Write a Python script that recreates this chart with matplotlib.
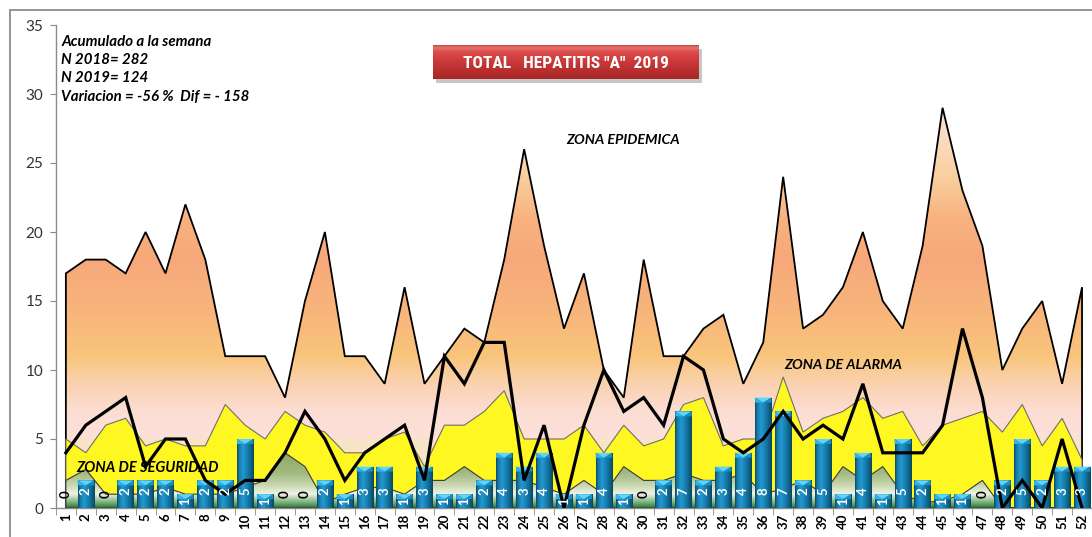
import numpy as np
import matplotlib
matplotlib.use("Agg")
import matplotlib.pyplot as plt
from matplotlib.patches import Polygon, Rectangle
from matplotlib.colors import to_rgb

# ---------------- data ----------------
weeks = list(range(1, 53))
week_labels = [str(w) for w in weeks]

zona_epidemica = [17, 18, 18, 17, 20, 17, 22, 18, 11, 11,
                  11, 8, 15, 20, 11, 11, 9, 16, 9, 11,
                  13, 12, 18, 26, 19, 13, 17, 10, 8, 18,
                  11, 11, 13, 14, 9, 12, 24, 13, 14, 16,
                  20, 15, 13, 19, 29, 23, 19, 10, 13, 15,
                  9, 16]
zona_alarma = [5, 4, 6, 6.5, 4.5, 5, 4.5, 4.5, 7.5, 6,
               5, 7, 6, 5.5, 4, 4, 5, 5.5, 3, 6,
               6, 7, 8.5, 5, 5, 5, 6, 4, 6, 4.5,
               5, 7.5, 8, 4.5, 5, 5, 9.5, 5.5, 6.5, 7,
               8, 6.5, 7, 4.5, 6, 6.5, 7, 5.5, 7.5, 4.5,
               6.5, 3.5]
zona_seguridad = [2, 2.8, 1, 1, 1, 1.5, 1, 1, 1, 1.5,
                  2, 4, 3, 0.4, 1, 1.5, 1.5, 1, 2, 2,
                  3, 2, 2, 2, 1.5, 1, 2, 1, 3, 2,
                  2, 2.5, 2, 2, 2.5, 1, 1.4, 2, 1, 3,
                  2, 3, 1, 0.4, 0.5, 1, 2, 0, 0, 0,
                  0, 0]
casos_2018 = [4, 6, 7, 8, 3, 5, 5, 2, 1, 2,
              2, 4, 7, 5, 2, 4, 5, 6, 2, 11,
              9, 12, 12, 2, 6, 0, 6, 10, 7, 8,
              6, 11, 10, 5, 4, 5, 7, 5, 6, 5,
              9, 4, 4, 4, 6, 13, 8, 0, 2, 0,
              5, 0]
casos_2019 = [0, 2, 0, 2, 2, 2, 1, 2, 2, 5,
              1, 0, 0, 2, 1, 3, 3, 1, 3, 1,
              1, 2, 4, 3, 4, 1, 1, 4, 1, 0,
              2, 7, 2, 3, 4, 8, 7, 2, 5, 1,
              4, 1, 5, 2, 1, 1, 0, 2, 5, 2,
              3, 3]
yticks = [0, 5, 10, 15, 20, 25, 30, 35]

title_text = 'TOTAL   HEPATITIS "A"  2019'
info_lines = ["Acumulado a la semana", "N 2018= 282", "N 2019= 124",
              "Variacion = -56 %  Dif = - 158"]

# ---------------- helpers ----------------
FONT = ["Lato", "DejaVu Sans"]
plt.rcParams["font.family"] = FONT


def vgrad(stops, ymax=35.0, n=700):
    ys = np.linspace(0, ymax, n)
    pos = [s[0] for s in stops]
    cols = [to_rgb(s[1]) for s in stops]
    chans = [np.interp(ys, pos, [c[k] for c in cols]) for k in range(3)]
    return np.stack(chans, axis=-1)[:, None, :]


def hgrad(stops, n=60):
    xs = np.linspace(0, 1, n)
    pos = [s[0] for s in stops]
    cols = [to_rgb(s[1]) for s in stops]
    chans = [np.interp(xs, pos, [c[k] for c in cols]) for k in range(3)]
    return np.stack(chans, axis=-1)[None, :, :]


W, H = 1092, 537
fig = plt.figure(figsize=(W / 100, H / 100), dpi=100)
ax = fig.add_axes([55.9 / W, 29 / H, (W - 55.9) / W, 483 / H])
XMIN, XMAX = 0.5, 52.01

# ---------------- epidemic zone (gradient) ----------------
orange_stops = [(0, "#F8E4C6"), (4.95, "#F8E4C6"), (5.05, "#FCE1D9"), (7, "#FCDDD3"),
                (9, "#FAD2B0"), (11, "#F9C57C"), (14, "#F8B67B"), (18, "#F7A87B"),
                (21, "#F8B27F"), (24, "#FACF9F"), (27, "#FBDCC2"), (30, "#FCE3DA"),
                (35, "#FCE3DA")]
verts_o = [(weeks[0], 0)] + list(zip(weeks, zona_epidemica)) + [(weeks[-1], 0)]
poly_o = Polygon(verts_o, closed=True, facecolor="none", edgecolor="black",
                 lw=1.3, zorder=2)
ax.add_patch(poly_o)
im = ax.imshow(vgrad(orange_stops), extent=[XMIN, 53, 0, 35], origin="lower",
               aspect="auto", zorder=1, interpolation="bilinear")
im.set_clip_path(poly_o)

# ---------------- alarm zone ----------------
verts_a = [(weeks[0], 0)] + list(zip(weeks, zona_alarma)) + [(weeks[-1], 0)]
ax.add_patch(Polygon(verts_a, closed=True, facecolor="#FFF721",
                     edgecolor="#6E6E6E", lw=0.8, zorder=3))

# ---------------- security zone (gradient) ----------------
green_stops = [(0, "#2E7A35"), (0.45, "#86B886"), (1.0, "#EEF3E6"), (1.6, "#CAD9B2"),
               (2.5, "#A3BA80"), (4, "#8FA862"), (35, "#8FA862")]
verts_g = [(weeks[0], 0)] + list(zip(weeks, zona_seguridad)) + [(weeks[-1], 0)]
poly_g = Polygon(verts_g, closed=True, facecolor="none", edgecolor="#3A3A3A",
                 lw=0.8, zorder=5)
ax.add_patch(poly_g)
img = ax.imshow(vgrad(green_stops), extent=[XMIN, 53, 0, 35], origin="lower",
                aspect="auto", zorder=4, interpolation="bilinear")
img.set_clip_path(poly_g)

# ---------------- 2019 bars ----------------
bar_w = 0.82
bars = ax.bar(weeks, casos_2019, width=bar_w, color="none", edgecolor="none", zorder=6)
bar_img = hgrad([(0, "#0A4964"), (0.12, "#1677A6"), (0.35, "#2399D1"),
                 (0.6, "#1681B2"), (0.85, "#0E5F82"), (1, "#0A455E")])
cap_h = 0.36
for rect, v in zip(bars, casos_2019):
    if v <= 0:
        continue
    x0 = rect.get_x()
    x1 = x0 + rect.get_width()
    xc = (x0 + x1) / 2
    bi = ax.imshow(bar_img, extent=[x0, x1, 0, v], aspect="auto", zorder=6,
                   interpolation="bilinear")
    bi.set_clip_path(rect)
    ax.add_patch(Polygon([(x0, v), (x1, v), (xc, v - cap_h)], closed=True,
                         facecolor="#63D4F7", edgecolor="none", zorder=7))
    ax.add_patch(Polygon([(x0, v), (xc, v - cap_h), (x0, v - cap_h)], closed=True,
                         facecolor="#2FB3E8", edgecolor="none", zorder=7))
    ax.add_patch(Polygon([(x1, v), (xc, v - cap_h), (x1, v - cap_h)], closed=True,
                         facecolor="#1B8EC2", edgecolor="none", zorder=7))

# ---------------- 2018 line ----------------
ax.plot(weeks, casos_2018, color="black", lw=2.3, zorder=8, solid_joinstyle="miter")

# ---------------- bar labels ----------------
for w, v in zip(weeks, casos_2019):
    if v == 0:
        yc, col = 1.0, "black"
    elif v == 1:
        yc, col = 0.5, "white"
    else:
        yc, col = 1.25, "white"
    ax.text(w, yc, str(v), rotation=90, ha="center", va="center", color=col,
            fontsize=9.5, fontweight="bold", zorder=9)

# ---------------- axes styling ----------------
ax.set_xlim(XMIN, XMAX)
ax.set_ylim(0, 35)
ax.set_yticks(yticks)
ax.set_yticklabels([str(t) for t in yticks])
ax.set_xticks(weeks)
ax.set_xticklabels(week_labels, rotation=90, fontweight="bold", fontsize=9.5)
ax.set_xticks(np.arange(0.5, 53, 1.0), minor=True)
ax.tick_params(axis="x", which="major", length=0, pad=4)
ax.tick_params(axis="x", which="minor", length=5, color="#888888")
ax.tick_params(axis="y", length=4, color="#888888", labelsize=11,
               labelcolor="#333333", pad=5)
for s in ["top", "right"]:
    ax.spines[s].set_visible(False)
for s in ["left", "bottom"]:
    ax.spines[s].set_color("#8C8C8C")
    ax.spines[s].set_linewidth(1.0)
ax.set_facecolor("none")

# ---------------- text annotations ----------------
info_y = [33.8, 32.45, 31.15, 29.75]
for t, yy in zip(info_lines, info_y):
    ax.text(0.78, yy, t, ha="left", va="center", fontsize=10.8, fontweight="bold",
            fontstyle="italic", zorder=10)
ax.text(26.1, 26.7, "ZONA EPIDEMICA", ha="left", va="center", fontsize=10.3,
        fontweight="bold", fontstyle="italic", zorder=10)
ax.text(37.05, 10.36, "ZONA DE ALARMA", ha="left", va="center", fontsize=10.3,
        fontweight="bold", fontstyle="italic", zorder=10)
ax.text(1.5, 2.9, "ZONA DE SEGURIDAD", ha="left", va="center", fontsize=10.5,
        fontweight="bold", fontstyle="italic", zorder=10)

# ---------------- chart border ----------------
fig.add_artist(Rectangle((10 / W, -0.1), 1.2, 1.1 - 10 / H, transform=fig.transFigure,
                         fill=False, edgecolor="#8C8C8C", lw=1.3, zorder=0))

# ---------------- title box ----------------
bx0, by0, bw, bh = 433 / W, 1 - 79 / H, 266 / W, 34 / H
fig.add_artist(Rectangle((bx0 + 3 / W, by0 - 4 / H), bw, bh, transform=fig.transFigure,
                         facecolor="#B0B0B0", edgecolor="none", alpha=0.7, zorder=20))
tax = fig.add_axes([bx0, by0, bw, bh], zorder=21)
red = vgrad([(0, "#A82626"), (0.45, "#C63636"), (0.8, "#DD4A4A"), (0.92, "#E77272"),
             (1, "#C84A4A")], ymax=1.0, n=100)
tax.imshow(red, extent=[0, 1, 0, 1], origin="lower", aspect="auto")
tax.set_xlim(0, 1)
tax.set_ylim(0, 1)
tax.axis("off")
tax.text(0.5, 0.47, title_text, ha="center", va="center", color="white",
         fontsize=12.5, fontweight="bold", fontstretch="condensed",
         family=["Liberation Sans Narrow", "Roboto Condensed", "DejaVu Sans"])

fig.savefig("out.png", dpi=100)
